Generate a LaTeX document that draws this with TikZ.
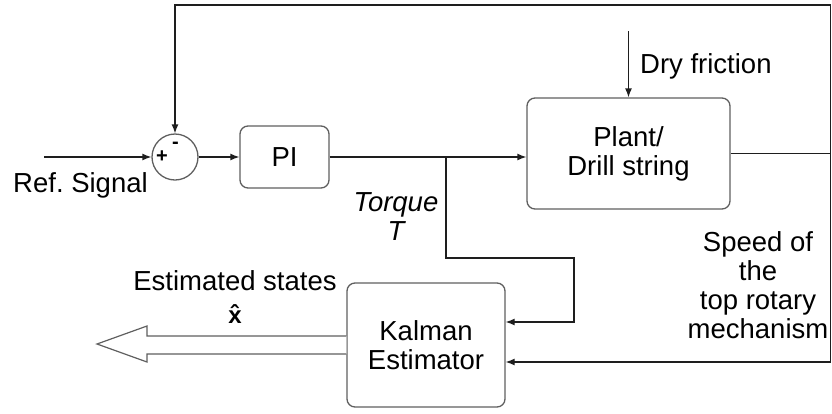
\documentclass[tikz,border=0pt]{standalone}
\usepackage{fontspec}
\setmainfont{Liberation Sans}
\usepackage{tikz}
\usetikzlibrary{arrows.meta,positioning,calc}
\definecolor{kal_line}{RGB}{30,30,30}
\definecolor{kal_gray}{RGB}{95,95,95}

\begin{document}
\begin{tikzpicture}[
      x=1pt, y=-1pt,
      font=\fontsize{27.5}{29}\selectfont,
      blk/.style={draw=kal_gray, line width=1.3pt, rounded corners=8pt,
                  align=center, inner sep=0pt},
      wire/.style={kal_line, line width=1.3pt},
      arr/.style={-{Latex[length=9pt,width=7pt]}, kal_line, line width=1.3pt},
      hollow/.style={draw=kal_gray, fill=white, line width=1.2pt, line join=miter},
      sgn/.style={font=\fontsize{20}{20}\selectfont\bfseries, inner sep=0pt},
      lbl/.style={inner sep=0pt, align=center},
    ]
    \useasboundingbox (0,0) rectangle (832,413);

    % blocks
    \node[circle, draw=kal_gray, line width=1.3pt, minimum size=46pt,
          inner sep=0pt] (sum) at (175,157) {};
    \node[blk, minimum width=89pt, minimum height=62pt] (pi) at (284.5,157) {PI};
    \node[blk, minimum width=203pt, minimum height=111pt] (plant) at (628.5,153.5)
          {Plant/\\Drill string};
    \node[blk, minimum width=158pt, minimum height=124pt] (kal) at (426,345)
          {Kalman\\Estimator};

    % free ends and corners
    \coordinate (ref) at (44,157);
    \coordinate (fric) at (628.5,31);
    \coordinate (tq) at (446,157);
    \coordinate (tq2) at (574,258);
    \coordinate (kin) at (574,322);
    \coordinate (corner) at (830.5,5);
    \coordinate (spd) at (830.5,362);
    \coordinate (est) at (97,344);

    % forward path
    \draw[arr] (ref) -- (sum.west);
    \draw[arr] (sum.east) -- (pi.west);
    \draw[arr] (pi.east) -- (pi.east -| plant.west);
    \draw[arr] (fric) -- (plant.north);

    % feedback and measurements
    \draw[arr] (plant.east) -| (corner) -| (sum.north);
    \draw[wire] (plant.east -| corner) -- (spd);
    \draw[arr] (spd) -- (spd -| kal.east);
    \draw[arr] (tq) |- (tq2) -- (kin) -- (kin -| kal.east);

    % estimated states output
    \draw[hollow] ($(kal.west)+(0,-9)$) -| ($(est)+(50,-18)$) -- (est)
          -- ($(est)+(50,18)$) |- ($(kal.west)+(0,9)$);

    % signs
    \node[sgn] (plus) at (162,157) {+};
    \node[sgn] (minus) at (175.5,145.5) {-};

    % labels (base = last line)
    \node[lbl, anchor=base] (reflbl) at (80.5,192) {Ref.\ Signal};
    \node[lbl, anchor=base west] (friclbl) at (640,73) {Dry friction};
    \node[lbl, anchor=base] (tqlbl) at (396,240) {\itshape Torque\\\itshape T};
    \node[lbl, anchor=base] (spdlbl) at (758,338)
          {\fontsize{27.5}{28.5}\selectfont Speed of\\the\\top rotary\\mechanism};
    \node[lbl, anchor=base] (estlbl) at (235,323)
          {Estimated states\\[4pt]\fontsize{24}{24}\selectfont\bfseries\^{x}};
  \end{tikzpicture}
\end{document}
